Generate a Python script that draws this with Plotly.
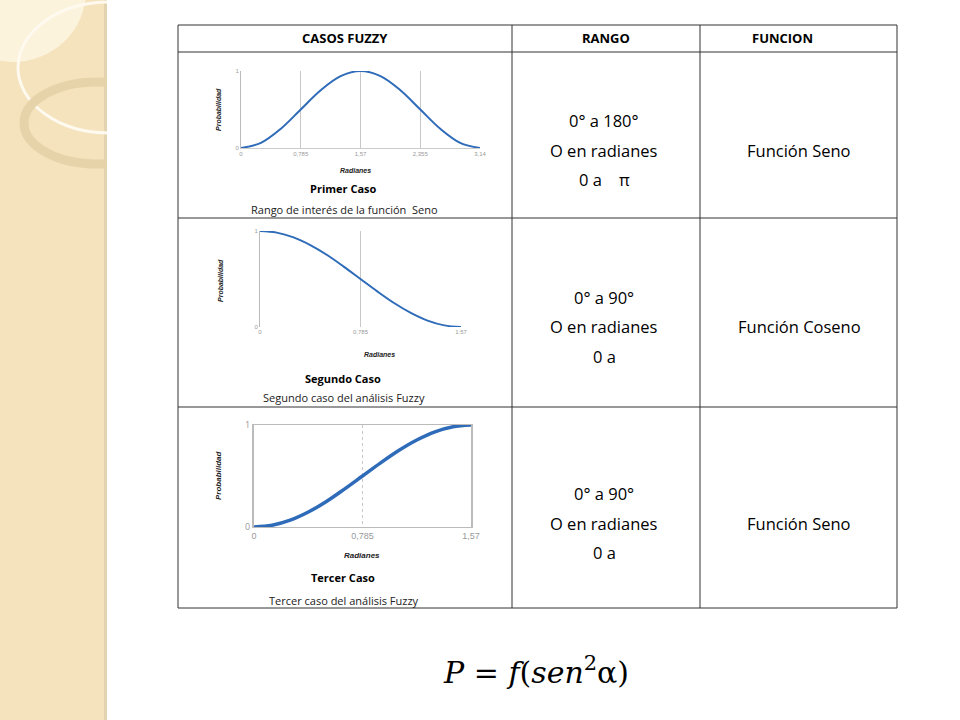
import plotly.graph_objects as go

headers = ["CASOS FUZZY", "RANGO", "FUNCION"]
rangos = [["0° a 180°", "O en radianes", "0 a    π"], ["0° a 90°", "O en radianes", "0 a"], ["0° a 90°", "O en radianes", "0 a"]]
funciones = ["Función Seno", "Función Coseno", "Función Seno"]
casos = ["Primer Caso", "Segundo Caso", "Tercer Caso"]
subtitulos = ["Rango de interés de la función  Seno", "Segundo caso del análisis Fuzzy", "Tercer caso del análisis Fuzzy"]

x1 = [0, 0.262, 0.524, 0.785, 1.047, 1.309, 1.571, 1.833, 2.094, 2.356, 2.618, 2.880, 3.142]
y1 = [0, 0.067, 0.25, 0.5, 0.75, 0.933, 1, 0.933, 0.75, 0.5, 0.25, 0.067, 0]
x2 = [0, 0.131, 0.262, 0.393, 0.524, 0.654, 0.785, 0.916, 1.047, 1.178, 1.309, 1.440, 1.571]
y2 = [1, 0.983, 0.933, 0.853, 0.75, 0.629, 0.5, 0.371, 0.25, 0.147, 0.067, 0.017, 0]
y3 = [0, 0.017, 0.067, 0.147, 0.25, 0.371, 0.5, 0.629, 0.75, 0.853, 0.933, 0.983, 1]
ticks1 = [0, 0.785, 1.57, 2.355, 3.14]
ticks1_lbl = ["0", "0,785", "1,57", "2,355", "3,14"]
ticks2 = [0, 0.785, 1.57]
ticks2_lbl = ["0", "0,785", "1:57"]
ticks3_lbl = ["0", "0,785", "1,57"]

W, H = 960, 720
def px(x): return x / W
def py(y): return 1 - y / H

fig = go.Figure()
BLUE = "#2e6bb8"
fig.add_trace(go.Scatter(x=x1, y=y1, mode="lines", line=dict(color=BLUE, width=2, shape="spline"), xaxis="x", yaxis="y"))
fig.add_trace(go.Scatter(x=x2, y=y2, mode="lines", line=dict(color=BLUE, width=2, shape="spline"), xaxis="x2", yaxis="y2"))
fig.add_trace(go.Scatter(x=x2, y=y3, mode="lines", line=dict(color=BLUE, width=3.5, shape="spline"), xaxis="x3", yaxis="y3"))

tf = dict(size=6, color="#999", family="Liberation Sans")
def xa(dom, rng, tv, tt, griddash, dtick_font=tf):
    return dict(domain=[px(dom[0]), px(dom[1])], range=rng, tickvals=tv, ticktext=tt, showgrid=True,
                gridcolor="#c8c8c8", griddash=griddash, zeroline=False, showline=False, tickfont=dtick_font,
                ticks="", fixedrange=True, automargin=False)
def ya(dom, anchor, lw):
    return dict(domain=[py(dom[1]), py(dom[0])], range=[0, 1], tickvals=[0, 1], ticktext=["0", "1"], anchor=anchor,
                showgrid=True, gridcolor="#c8c8c8", zeroline=False, showline=True, linecolor="#bbb", linewidth=lw,
                mirror=False, tickfont=tf, ticks="", automargin=False, fixedrange=True)

fig.update_layout(
    width=W, height=H, margin=dict(l=0, r=0, t=0, b=0), showlegend=False,
    paper_bgcolor="white", plot_bgcolor="white",
    xaxis=dict(xa((241, 480), [0, 3.14], ticks1, ticks1_lbl, "solid"), anchor="y"),
    yaxis=ya((71, 148), "x", 1),
    xaxis2=dict(xa((260, 461), [0, 1.57], ticks2, ticks2_lbl, "solid"), anchor="y2"),
    yaxis2=ya((231, 327), "x2", 1),
    xaxis3=dict(xa((254, 471), [0, 1.57], ticks2, ticks3_lbl, "dot", dict(size=9, color="#999", family="Liberation Sans")), anchor="y3"),
    yaxis3=dict(ya((425, 527), "x3", 2), tickfont=dict(size=9, color="#999")),
)
fig.layout.xaxis.showline = True; fig.layout.xaxis.linecolor = "#ccc"
fig.layout.xaxis3.showline = True; fig.layout.xaxis3.linecolor = "#bbb"; fig.layout.xaxis3.mirror = True
fig.layout.yaxis3.mirror = True

shapes = []
shapes.append(dict(type="rect", xref="paper", yref="paper", x0=0, x1=px(106), y0=0, y1=1, fillcolor="#f4e3bd", line=dict(width=0), layer="below"))
shapes.append(dict(type="rect", xref="paper", yref="paper", x0=px(104), x1=px(107), y0=0, y1=1, fillcolor="#e3d3b0", line=dict(width=0), layer="below"))
shapes.append(dict(type="circle", xref="paper", yref="paper", x0=px(-60), x1=px(86), y0=py(62), y1=py(-80), fillcolor="rgba(255,250,235,0.7)", line=dict(width=0), layer="below"))
shapes.append(dict(type="circle", xref="paper", yref="paper", x0=px(18), x1=px(200), y0=py(133), y1=py(2), line=dict(color="#fffaf0", width=3), layer="below"))
shapes.append(dict(type="circle", xref="paper", yref="paper", x0=px(24), x1=px(170), y0=py(164), y1=py(82), line=dict(color="#e6d3aa", width=9), layer="below"))
shapes.append(dict(type="rect", xref="paper", yref="paper", x0=px(107), x1=1, y0=0, y1=1, fillcolor="white", line=dict(width=0), layer="below"))
TL, TR = 178, 897
cols = [512, 700]
rows = [25, 52, 218, 407, 608]
for r in rows:
    shapes.append(dict(type="line", xref="paper", yref="paper", x0=px(TL), x1=px(TR), y0=py(r), y1=py(r), line=dict(color="#333", width=1)))
for c in [TL] + cols + [TR]:
    shapes.append(dict(type="line", xref="paper", yref="paper", x0=px(c), x1=px(c), y0=py(rows[0]), y1=py(rows[-1]), line=dict(color="#333", width=1)))
fig.update_layout(shapes=shapes)

F = "Open Sans"
ann = []
def A(text, x, y, size, color="black", family=F, angle=0):
    ann.append(dict(text=text, x=px(x), y=py(y), xref="paper", yref="paper", showarrow=False, xanchor="center", yanchor="middle",
                    textangle=angle, font=dict(size=size, family=family, color=color)))
for h, xc in zip(headers, [345, 606, 782]):
    A("<b>" + h + "</b>", xc, 38, 13)
centers = [150, 327, 523]
for i in range(3):
    yc = centers[i]
    for j, line in enumerate(rangos[i]):
        A(line, 604, yc + (j - 1) * 29.5, 16.5)
    A(funciones[i], 799, yc, 16.5)
for txt, y in zip(casos, [189, 378, 577]):
    A("<b>" + txt + "</b>", 343, y, 11)
for txt, y in zip(subtitulos, [209, 397, 600]):
    A(txt, 344, y, 11, "#222")
for x, y, fs in [(218, 110, 7), (221, 281, 7), (218, 475, 8)]:
    A("<b><i>Probabilidad</i></b>", x, y, fs, "#222", "Liberation Sans", -90)
for x, y, fs in [(355, 170, 7), (379, 354, 7), (362, 555, 8)]:
    A("<b><i>Radianes</i></b>", x, y, fs, "#222", "Liberation Sans")
A("<i>P</i> = <i>f</i>(<i>sen</i><sup>2</sup>α)", 536, 670, 30, "black", "DejaVu Serif")
fig.update_layout(annotations=ann)

fig.write_html("out.html", config={"displayModeBar": False})
with open("out.html", encoding="utf-8") as f:
    html = f.read()
html = html.replace("<body>", '<body style="margin:0;overflow:hidden">', 1)
with open("out.html", "w", encoding="utf-8") as f:
    f.write(html)
